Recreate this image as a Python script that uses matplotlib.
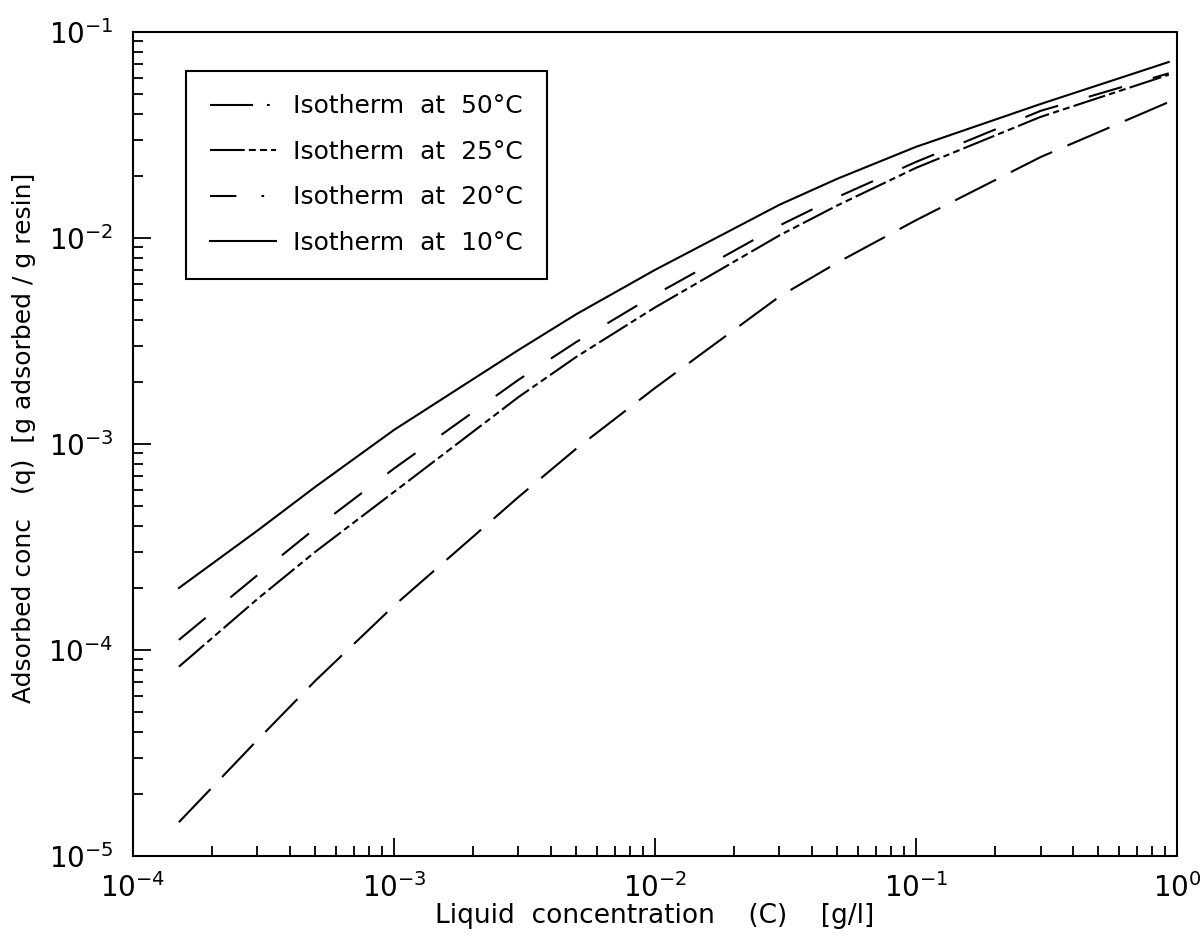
import matplotlib
matplotlib.use("Agg")
import matplotlib.pyplot as plt
from matplotlib.lines import Line2D
from matplotlib.ticker import LogLocator, NullFormatter

plt.rcParams['font.family'] = ['DejaVu Sans']
plt.rcParams['mathtext.fontset'] = 'dejavusans'
plt.rcParams['lines.scale_dashes'] = False

# Data
conc = [1.5e-4, 3e-4, 5e-4, 1e-3, 3e-3, 5e-3, 1e-2, 3e-2, 5e-2, 1e-1, 3e-1, 0.93]
q_10 = [2.0e-4, 3.8e-4, 6.2e-4, 1.17e-3, 2.86e-3, 4.27e-3, 7.0e-3, 1.45e-2, 1.94e-2, 2.77e-2, 4.47e-2, 7.15e-2]
q_20 = [1.12e-4, 2.31e-4, 3.9e-4, 7.6e-4, 2.05e-3, 3.13e-3, 5.3e-3, 1.15e-2, 1.58e-2, 2.34e-2, 4.14e-2, 6.3e-2]
q_25 = [8.3e-5, 1.77e-4, 3.0e-4, 5.85e-4, 1.69e-3, 2.65e-3, 4.6e-3, 1.03e-2, 1.44e-2, 2.19e-2, 3.87e-2, 6.2e-2]
q_50 = [1.46e-5, 3.66e-5, 7.1e-5, 1.64e-4, 5.53e-4, 9.5e-4, 1.87e-3, 5.2e-3, 7.6e-3, 1.22e-2, 2.47e-2, 4.57e-2]
labels = ["Isotherm  at  50°C", "Isotherm  at  25°C", "Isotherm  at  20°C", "Isotherm  at  10°C"]

fig = plt.figure(figsize=(12.01, 9.41), dpi=100)
ax = fig.add_axes([0.1107, 0.0903, 0.8693, 0.8757])

lw = 1.5
ax.plot(conc, q_50, color='black', lw=lw, dashes=(33, 12))
ax.plot(conc, q_25, color='black', lw=lw, dashes=(24, 3, 4.5, 3, 5, 3))
ax.plot(conc, q_20, color='black', lw=lw, dashes=(25, 23))
ax.plot(conc, q_10, color='black', lw=lw)

ax.set_xscale('log')
ax.set_yscale('log')
ax.set_xlim(1e-4, 1e0)
ax.set_ylim(1e-5, 1e-1)

ax.xaxis.set_major_locator(LogLocator(base=10, numticks=10))
ax.yaxis.set_major_locator(LogLocator(base=10, numticks=10))
ax.xaxis.set_minor_locator(LogLocator(base=10, subs=range(2, 10), numticks=20))
ax.yaxis.set_minor_locator(LogLocator(base=10, subs=range(2, 10), numticks=20))
ax.xaxis.set_minor_formatter(NullFormatter())
ax.yaxis.set_minor_formatter(NullFormatter())

ax.tick_params(which='both', direction='in', top=False, right=False, width=1.3)
ax.tick_params(which='major', length=13, labelsize=20)
ax.tick_params(axis='x', which='major', pad=12)
ax.tick_params(axis='y', which='major', pad=14)
ax.tick_params(which='minor', length=7)
for s in ax.spines.values():
    s.set_linewidth(1.5)

ax.set_xlabel("Liquid  concentration    (C)    [g/l]", fontsize=19, labelpad=0)
ax.set_ylabel("Adsorbed conc   (q)  [g adsorbed / g resin]", fontsize=18, labelpad=9)
ax.yaxis.set_label_coords(-0.093, 0.508)

handles = [
    Line2D([], [], color='black', lw=lw, dashes=(31, 10, 2, 60)),
    Line2D([], [], color='black', lw=lw, dashes=(25, 3, 5, 3, 5, 3, 4, 3, 2, 60)),
    Line2D([], [], color='black', lw=lw, dashes=(19, 18, 2, 60)),
    Line2D([], [], color='black', lw=lw),
]
leg = ax.legend(handles, labels, loc='upper left', bbox_to_anchor=(0.051, 0.953),
                fontsize=18, frameon=True, fancybox=False, edgecolor='black',
                framealpha=1, handlelength=2.65, handletextpad=0.68,
                labelspacing=0.86, borderpad=0.95, borderaxespad=0)
leg.get_frame().set_linewidth(1.5)

fig.savefig("out.png", dpi=100)
